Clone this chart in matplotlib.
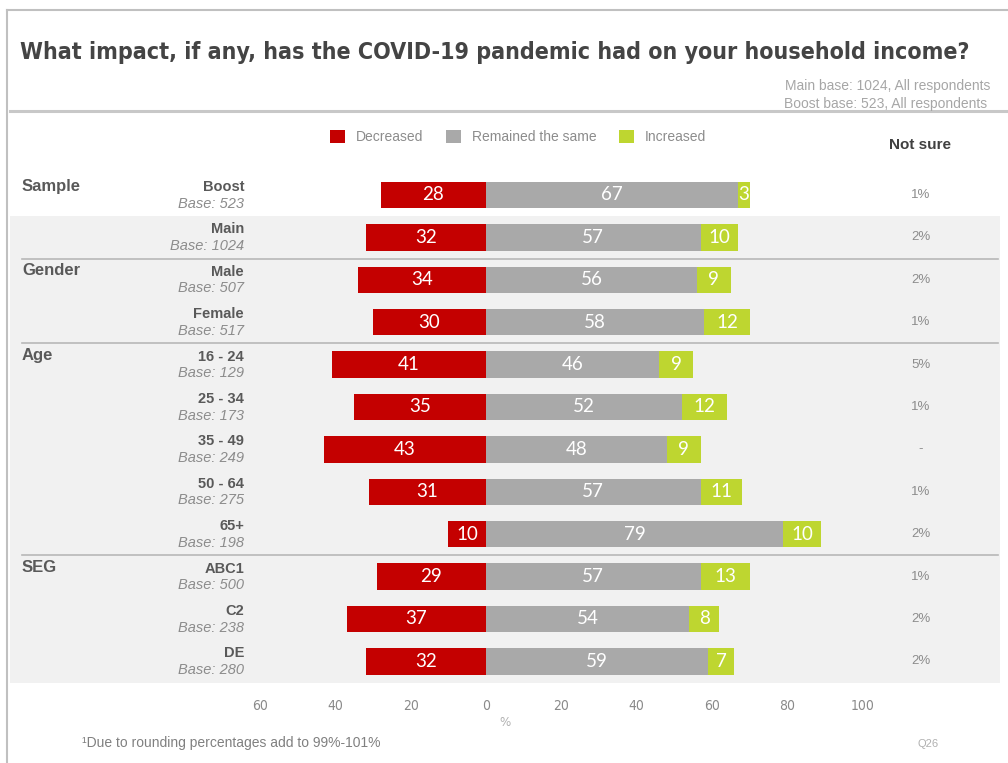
import matplotlib
matplotlib.use("Agg")
import matplotlib.pyplot as plt
from matplotlib.patches import Patch
from matplotlib.lines import Line2D

# ---------------- data ----------------
categories = ["Boost", "Main", "Male", "Female", "16 - 24", "25 - 34", "35 - 49",
              "50 - 64", "65+", "ABC1", "C2", "DE"]
bases = ["523", "1024", "507", "517", "129", "173", "249", "275", "198", "500", "238", "280"]
groups = {"Sample": 0, "Gender": 2, "Age": 4, "SEG": 9}
decreased = [28, 32, 34, 30, 41, 35, 43, 31, 10, 29, 37, 32]
remained = [67, 57, 56, 58, 46, 52, 48, 57, 79, 57, 54, 59]
increased = [3, 10, 9, 12, 9, 12, 9, 11, 10, 13, 8, 7]
not_sure = ["1%", "2%", "2%", "1%", "5%", "1%", "-", "1%", "2%", "1%", "2%", "2%"]
xticks = [-60, -40, -20, 0, 20, 40, 60, 80, 100]
series_names = ["Decreased", "Remained the same", "Increased"]

RED = "#c40000"
GREY = "#a9a9a9"
GREEN = "#bed630"
BG = "#f1f1f1"
TXT = "#595959"
LTXT = "#8c8c8c"

W, H = 1008, 763
fig = plt.figure(figsize=(W / 100, H / 100), dpi=100)

def fx(px):
    return px / W

def fy(py):
    return 1 - py / H

# layout in pixels
x0_px, scale = 486.0, 3.765
row0_py, row_h = 195.0, 42.4
ax_left, ax_right = 10.0, 1000.0
ax_top = row0_py - 0.5 * row_h
ax_bot = row0_py + 11.5 * row_h

ax = fig.add_axes([fx(ax_left), fy(ax_bot), fx(ax_right - ax_left), (ax_bot - ax_top) / H])
ax.set_xlim((ax_left - x0_px) / scale, (ax_right - x0_px) / scale)
ax.set_ylim(len(categories) - 0.5, -0.5)
ax.patch.set_alpha(0)
for s in ax.spines.values():
    s.set_visible(False)

# background band and separators
ax.axhspan(0.5, len(categories) - 0.5, color=BG, zorder=0, lw=0)
sep_x0 = (22 - x0_px) / scale
sep_x1 = (998 - x0_px) / scale
for yy in [1.5, 3.5, 8.5]:
    ax.plot([sep_x0, sep_x1], [yy, yy], color="#b8b8b8", lw=1.2, zorder=1)

ys = list(range(len(categories)))
bh = 0.62
neg_dec = [-d for d in decreased]
ax.barh(ys, neg_dec, height=bh, color=RED, zorder=2, lw=0)
ax.barh(ys, remained, height=bh, color=GREY, zorder=2, lw=0)
ax.barh(ys, increased, left=remained, height=bh, color=GREEN, zorder=2, lw=0)

lab_kw = dict(color="white", fontsize=13.5, family="Lato", va="center", ha="center", zorder=3)
for i in ys:
    ax.text(-decreased[i] / 2, i, str(decreased[i]), **lab_kw)
    ax.text(remained[i] / 2, i, str(remained[i]), **lab_kw)
    ax.text(remained[i] + increased[i] / 2, i, str(increased[i]), **lab_kw)

# x axis ticks
ax.set_xticks(xticks)
ax.set_xticklabels([str(abs(t)) for t in xticks], color="#8a8a8a", fontsize=10,
                   family="DejaVu Sans", fontstretch="condensed")
ax.tick_params(axis="x", length=0, pad=12)
ax.set_yticks([])
ax.set_xlabel("%", color="#b0b0b0", fontsize=9.5, labelpad=2, family="DejaVu Sans",
              fontstretch="condensed")

# row labels
for i in ys:
    py = row0_py + i * row_h
    fig.text(fx(244), fy(py - 8), categories[i], ha="right", va="center",
             fontsize=10.5, fontweight="bold", color=TXT, family="Liberation Sans")
    fig.text(fx(244), fy(py + 8.5), "Base: " + bases[i], ha="right", va="center",
             fontsize=10.5, style="italic", color=LTXT, family="Liberation Sans")
    fig.text(fx(921), fy(py), not_sure[i], ha="center", va="center",
             fontsize=9.5, color=LTXT, family="Liberation Sans")

for g, idx in groups.items():
    py = row0_py + idx * row_h - 9
    fig.text(fx(22), fy(py), g, ha="left", va="center", fontsize=12,
             fontweight="bold", color=TXT, family="Liberation Sans")

fig.text(fx(920), fy(145), "Not sure", ha="center", va="center", fontsize=11,
         fontweight="bold", color="#404040", family="Liberation Sans")

# legend
handles = [Patch(facecolor=c, edgecolor="none") for c in (RED, GREY, GREEN)]
leg = fig.legend(handles, series_names, loc="center", bbox_to_anchor=(fx(518), fy(137)),
                 ncol=3, frameon=False, handlelength=1.1, handleheight=1.1,
                 handletextpad=0.8, columnspacing=1.6,
                 prop={"family": "Liberation Sans", "size": 10})
for t in leg.get_texts():
    t.set_color(LTXT)

# title and header
fig.text(fx(20), fy(52), "What impact, if any, has the COVID-19 pandemic had on your household income?",
         ha="left", va="center", fontsize=16.7, fontweight="bold", color="#444444",
         family="DejaVu Sans", fontstretch="condensed")
fig.text(fx(785), fy(86), "Main base: 1024, All respondents", ha="left", va="center",
         fontsize=10, color="#a6a6a6", family="Liberation Sans")
fig.text(fx(784), fy(104), "Boost base: 523, All respondents", ha="left", va="center",
         fontsize=10, color="#a6a6a6", family="Liberation Sans")

# frame lines
fig.add_artist(Line2D([fx(10), fx(1008)], [fy(111), fy(111)], color="#c8c8c8", lw=2.2))
fig.add_artist(Line2D([fx(7), fx(1008)], [fy(10), fy(10)], color="#c0c0c0", lw=1.5))
fig.add_artist(Line2D([fx(7), fx(7)], [fy(10), fy(763)], color="#c0c0c0", lw=1.5))

# footnotes
fig.text(fx(82), fy(743), "\u00b9Due to rounding percentages add to 99%-101%", ha="left",
         va="center", fontsize=10, color="#808080", family="Liberation Sans")
fig.text(fx(928), fy(744), "Q26", ha="center", va="center", fontsize=8,
         color="#b0b0b0", family="Liberation Sans")

fig.savefig("out.png", dpi=100)
